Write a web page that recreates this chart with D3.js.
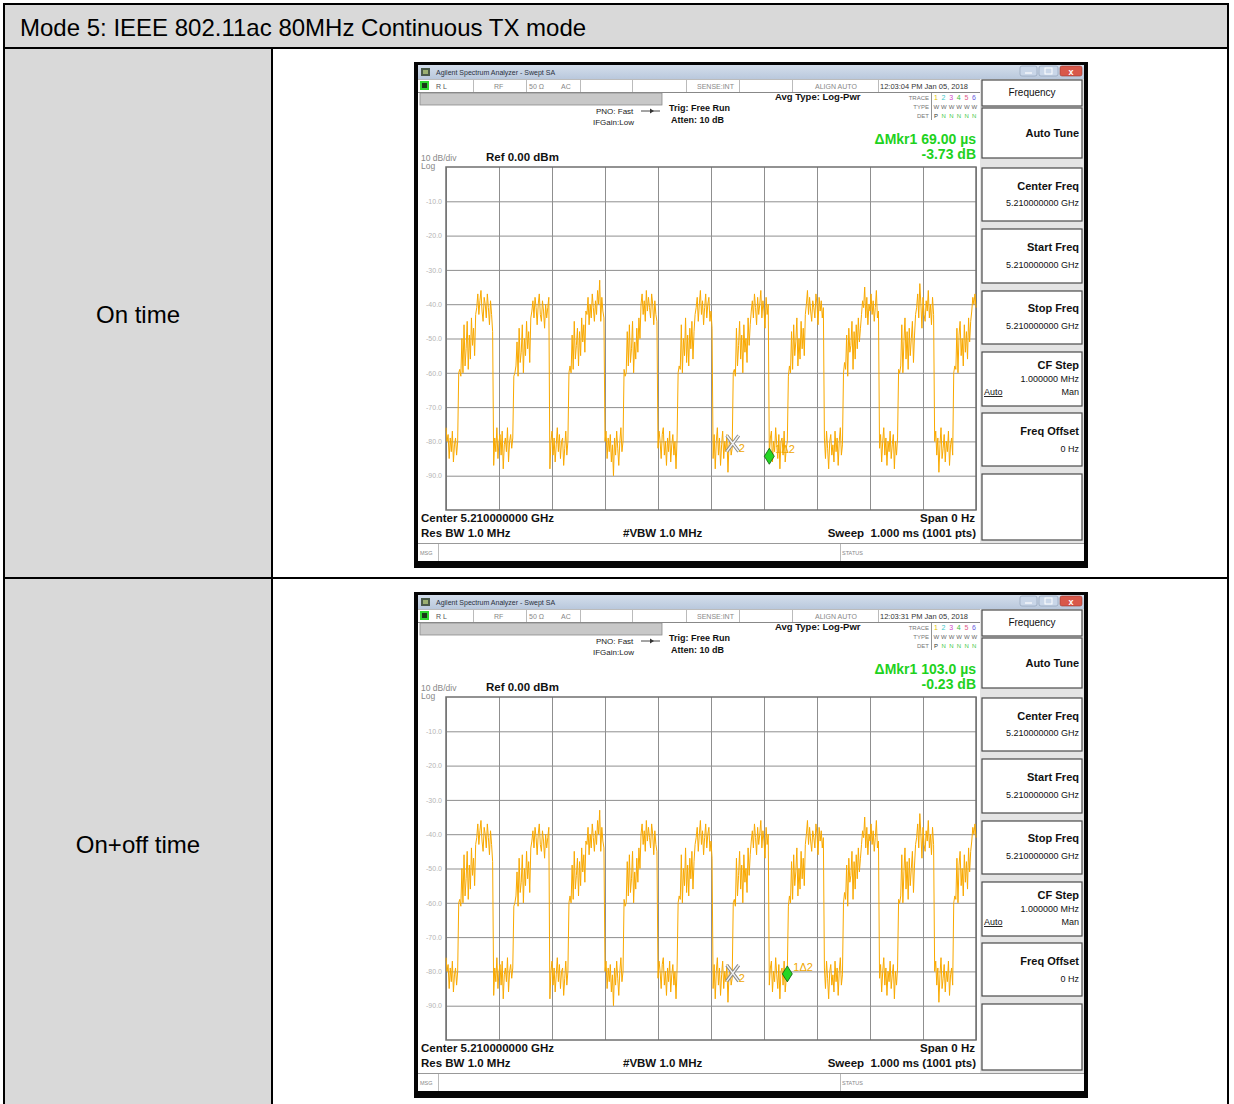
<!DOCTYPE html>
<html>
<head>
<meta charset="utf-8">
<script src="https://cdn.jsdelivr.net/npm/d3@7"></script>
<style>
  body { margin: 0; background: #fff; }
  svg { display: block; }
  text { font-family: "Liberation Sans", Arial, sans-serif; }
  .pre { white-space: pre; }
</style>
</head>
<body>
<svg id="chart" width="1234" height="1104"></svg>
<script>
// ---------- table content ----------
const tableTitle = "Mode 5: IEEE 802.11ac 80MHz Continuous TX mode";
const rowLabels = ["On time", "On+off time"];

// ---------- per-capture analyzer readouts ----------
const timestamps = ["12:03:04 PM Jan 05, 2018", "12:03:31 PM Jan 05, 2018"];
const deltaTimeUs = [69.00, 103.0];      // ΔMkr1 time
const deltaLevelDb = [-3.73, -0.23];     // ΔMkr1 level
const refMarkerTimeUs = [541, 541];      // marker 2 (reference) time
const refMarkerDbm = [-80.6, -80.5];     // marker 2 level

// ---------- axes ----------
const sweepSpanUs = 1000;                // 1.000 ms zero-span sweep
const refLevelDbm = 0;
const bottomLevelDbm = -100;
const levelTicks = [-10, -20, -30, -40, -50, -60, -70, -80, -90];
const timeGrid = [0, 100, 200, 300, 400, 500, 600, 700, 800, 900, 1000];

// ---------- trace (dBm), one value every 2 µs across the sweep ----------
const sweepStepUs = 2;
const traceDbm = [
  // off
  -76, -80, -78, -85, -79, -83, -77, -86, -81, -79, -84, -80,
  // burst 1: preamble, then payload
  -60, -59, -61, -50, -60, -46, -58, -53, -45, -59, -49, -56, -44, -52, -47, -55, -43,
  -41, -37, -43, -39, -36, -42, -45, -38, -40, -44, -37, -41, -46, -39, -43, -48,
  // off
  -87, -79, -83, -76, -85, -80, -78, -84, -77, -88, -81, -79, -83, -76, -86, -80, -78, -82, -79,
  // burst 2
  -61, -60, -58, -51, -61, -47, -57, -54, -46, -60, -50, -55, -45, -53, -48, -57, -44,
  -42, -39, -44, -38, -41, -46, -40, -37, -43, -45, -39, -42, -47, -40, -44, -41, -38,
  // off
  -88, -80, -77, -84, -79, -86, -81, -76, -83, -78, -85, -80, -79, -87, -82, -77, -84, -80,
  // burst 3
  -60, -58, -60, -49, -59, -45, -56, -52, -47, -58, -48, -55, -44, -51, -46, -54, -42,
  -43, -38, -46, -40, -44, -37, -41, -45, -39, -43, -36, -40, -33, -45, -38, -42, -44,
  // off
  -80, -77, -85, -79, -83, -78, -86, -81, -90, -79, -84, -77, -82, -87, -80, -76, -83, -80,
  // burst 4
  -59, -61, -60, -48, -58, -46, -57, -53, -45, -60, -51, -56, -47, -54, -44, -50,
  -40, -37, -43, -39, -45, -36, -42, -38, -41, -44, -37, -40, -46, -39, -43, -45,
  // off
  -82, -77, -80, -85, -78, -76, -84, -80, -87, -79, -83, -77, -86, -81, -78, -84, -80, -88, -79,
  // burst 5
  -60, -58, -59, -46, -60, -50, -55, -44, -57, -49, -58, -47, -53, -45, -56, -48, -43,
  -41, -38, -45, -40, -36, -43, -39, -46, -41, -37, -44, -40, -38, -45, -42, -47,
  // off
  -85, -78, -88, -80, -76, -84, -79, -87, -81, -77, -85, -80, -83, -78, -89, -81, -79, -84, -82,
  // burst 6
  -60, -59, -61, -47, -58, -52, -45, -56, -49, -60, -46, -54, -50, -57, -44, -52, -46,
  -42, -39, -44, -37, -41, -46, -38, -43, -40, -36, -44, -39, -42, -47, -38, -43, -40,
  // off
  -84, -79, -77, -86, -80, -83, -76, -81, -85, -78, -88, -80, -79, -84, -77, -86, -82, -80,
  // burst 7
  -61, -58, -60, -48, -59, -46, -55, -51, -44, -58, -50, -56, -45, -53, -47, -55, -43,
  -40, -36, -43, -38, -42, -45, -39, -41, -44, -37, -40, -46, -38, -42, -39, -44, -41,
  // off
  -79, -85, -77, -82, -88, -80, -78, -84, -81, -86, -77, -83, -79, -87, -80, -76, -84, -81,
  // burst 8
  -60, -57, -59, -49, -61, -47, -54, -52, -45, -59, -48, -56, -46, -53, -44, -51, -47,
  -43, -39, -41, -35, -44, -38, -46, -40, -42, -37, -43, -39, -45, -41, -36, -44, -42,
  // off
  -82, -78, -86, -80, -76, -84, -79, -87, -80, -83, -77, -85, -81, -78, -88, -80, -84, -79,
  // burst 9
  -59, -60, -58, -46, -60, -51, -44, -56, -48, -59, -47, -55, -50, -45, -57, -49, -43,
  -41, -37, -44, -34, -40, -47, -38, -43, -45, -39, -42, -36, -44, -40, -46, -38, -43,
  // off
  -80, -77, -84, -79, -89, -81, -76, -85, -82, -78, -86, -80, -83, -77, -87, -81, -79, -84,
  // burst 10
  -60, -58, -59, -47, -60, -49, -45, -55, -50, -58, -46, -54, -48, -56, -44, -51, -45,
  -42, -38, -40, -37, -41
];

// ---------- soft key menu ----------
const softkeyTitle = "Frequency";
const softkeys = [
  { label: "Auto Tune", value: "" },
  { label: "Center Freq", value: "5.210000000 GHz" },
  { label: "Start Freq", value: "5.210000000 GHz" },
  { label: "Stop Freq", value: "5.210000000 GHz" },
  { label: "CF Step", value: "1.000000 MHz" },
  { label: "Freq Offset", value: "0 Hz" },
  { label: "", value: "" }
];
const traceNumbers = ["1", "2", "3", "4", "5", "6"];
const traceNumberColors = ["#e2c400", "#3cc8c8", "#d048c8", "#44c044", "#e05a8a", "#6a5ae0"];

const loc = d3.formatLocale({ decimal: ".", thousands: ",", grouping: [3], currency: ["", ""], minus: "-" });
const fmtLevel = loc.format(".1f");
const fmtDb = loc.format(".2f");
const fmtUs = loc.format(".4r");

const svg = d3.select("#chart");

// ================= table =================
const tbl = svg.append("g");
tbl.append("rect").attr("x", 5).attr("y", 5).attr("width", 1223).attr("height", 43).attr("fill", "#d9d9d9");
tbl.append("rect").attr("x", 5).attr("y", 49).attr("width", 267).attr("height", 529).attr("fill", "#d9d9d9");
tbl.append("rect").attr("x", 5).attr("y", 579).attr("width", 267).attr("height", 525).attr("fill", "#d9d9d9");

const lines = [
  [4, 4, 1229, 4], [4, 48, 1229, 48], [4, 578, 1229, 578],
  [4, 3, 4, 1104], [1228, 3, 1228, 1104], [272, 48, 272, 1104]
];
tbl.selectAll("line.tb").data(lines).join("line")
  .attr("x1", d => d[0]).attr("y1", d => d[1]).attr("x2", d => d[2]).attr("y2", d => d[3])
  .attr("stroke", "#000").attr("stroke-width", 2);

tbl.append("text").attr("x", 20).attr("y", 36).attr("font-size", 24).attr("fill", "#000").text(tableTitle);
tbl.selectAll("text.row").data(rowLabels).join("text")
  .attr("x", 138).attr("y", (d, i) => i === 0 ? 323 : 853)
  .attr("text-anchor", "middle").attr("font-size", 24).attr("fill", "#000").text(d => d);

// ================= analyzer screen =================
const defs = svg.append("defs");
const grad = defs.append("linearGradient").attr("id", "titlebar").attr("x1", 0).attr("y1", 0).attr("x2", 0).attr("y2", 1);
grad.append("stop").attr("offset", "0%").attr("stop-color", "#d4deec");
grad.append("stop").attr("offset", "100%").attr("stop-color", "#b9c8dc");

function txt(g, x, y, s, opts = {}) {
  return g.append("text").attr("x", x).attr("y", y)
    .attr("font-size", opts.size || 9)
    .attr("font-weight", opts.bold ? "bold" : "normal")
    .attr("fill", opts.fill || "#111")
    .attr("text-anchor", opts.anchor || "start")
    .text(s);
}

function drawScreen(ox, oy, k) {
  const g = svg.append("g").attr("transform", `translate(${ox},${oy})`);

  // bezel + screen
  g.append("rect").attr("width", 674).attr("height", 506).attr("fill", "#050505");
  g.append("rect").attr("x", 4).attr("y", 3).attr("width", 666).attr("height", 496).attr("fill", "#fff");

  // window title bar
  g.append("rect").attr("x", 4).attr("y", 3).attr("width", 666).attr("height", 14).attr("fill", "url(#titlebar)");
  g.append("rect").attr("x", 7).attr("y", 6).attr("width", 9).attr("height", 8).attr("fill", "#4a5a48");
  g.append("rect").attr("x", 9).attr("y", 8).attr("width", 5).attr("height", 4).attr("fill", "#9bb070");
  txt(g, 22, 13, "Agilent Spectrum Analyzer - Swept SA", { size: 7, fill: "#2a3040" });
  g.append("rect").attr("x", 606).attr("y", 4).attr("width", 17).attr("height", 10).attr("rx", 2).attr("fill", "#c9d6e8").attr("stroke", "#8a9bb2").attr("stroke-width", 0.6);
  g.append("rect").attr("x", 625).attr("y", 4).attr("width", 19).attr("height", 10).attr("rx", 2).attr("fill", "#c9d6e8").attr("stroke", "#8a9bb2").attr("stroke-width", 0.6);
  g.append("rect").attr("x", 646).attr("y", 4).attr("width", 22).attr("height", 10).attr("rx", 2).attr("fill", "#d8584a").attr("stroke", "#9a3a30").attr("stroke-width", 0.6);
  g.append("line").attr("x1", 611).attr("y1", 11).attr("x2", 618).attr("y2", 11).attr("stroke", "#fff").attr("stroke-width", 1.2);
  g.append("rect").attr("x", 631).attr("y", 6).attr("width", 7).attr("height", 6).attr("fill", "none").attr("stroke", "#fff").attr("stroke-width", 1);
  g.append("text").attr("x", 657).attr("y", 12.5).attr("text-anchor", "middle").attr("font-size", 9).attr("font-weight", "bold").attr("fill", "#fff").text("x");

  // status row
  g.append("line").attr("x1", 4).attr("y1", 17.5).attr("x2", 566).attr("y2", 17.5).attr("stroke", "#bbb");
  g.append("line").attr("x1", 4).attr("y1", 30.5).attr("x2", 566).attr("y2", 30.5).attr("stroke", "#888");
  const seps = [59, 112, 166, 218, 272, 325, 378, 464, 566];
  g.selectAll("line.sep").data(seps).join("line")
    .attr("x1", d => d + 0.5).attr("x2", d => d + 0.5).attr("y1", 18).attr("y2", 30)
    .attr("stroke", "#bbb");
  g.append("rect").attr("x", 6).attr("y", 19).attr("width", 9).attr("height", 9).attr("fill", "#2fd62f");
  g.append("rect").attr("x", 8).attr("y", 21).attr("width", 5).attr("height", 5).attr("fill", "#1a3a1a");
  txt(g, 22, 27, "R L", { size: 7, fill: "#555" });
  txt(g, 80, 27, "RF", { size: 7, fill: "#888" });
  txt(g, 115, 27, "50 Ω", { size: 7, fill: "#888" });
  txt(g, 147, 27, "AC", { size: 7, fill: "#888" });
  txt(g, 283, 27, "SENSE:INT", { size: 7, fill: "#888" });
  txt(g, 401, 27, "ALIGN AUTO", { size: 7, fill: "#888" });
  txt(g, 466, 27, timestamps[k], { size: 7.5, fill: "#333" });

  // grey bar and setup lines
  g.append("rect").attr("x", 6).attr("y", 31).attr("width", 242).attr("height", 12).attr("fill", "#c8c8c8").attr("stroke", "#8a8a8a").attr("stroke-width", 0.8);
  txt(g, 182, 52, "PNO: Fast", { size: 8, fill: "#222" });
  txt(g, 179, 63, "IFGain:Low", { size: 8, fill: "#222" });
  g.append("line").attr("x1", 227).attr("y1", 49).attr("x2", 246).attr("y2", 49).attr("stroke", "#333").attr("stroke-width", 0.9);
  g.append("path").attr("d", "M236,46.5 L240,49 L236,51.5 Z").attr("fill", "#333");
  txt(g, 255, 49, "Trig: Free Run", { size: 9, bold: true });
  txt(g, 257, 61, "Atten: 10 dB", { size: 9, bold: true });
  txt(g, 361, 38, "Avg Type: Log-Pwr", { size: 9.5, bold: true });

  // trace legend
  txt(g, 515, 38, "TRACE", { size: 6, fill: "#777", anchor: "end" });
  txt(g, 515, 47, "TYPE", { size: 6, fill: "#777", anchor: "end" });
  txt(g, 515, 56, "DET", { size: 6, fill: "#777", anchor: "end" });
  g.append("line").attr("x1", 517.5).attr("x2", 517.5).attr("y1", 31).attr("y2", 58).attr("stroke", "#777").attr("stroke-width", 0.8);
  traceNumbers.forEach((n, i) => {
    txt(g, 520 + i * 7.6, 38, n, { size: 7, fill: traceNumberColors[i] });
    txt(g, 519.5 + i * 7.6, 47, "W", { size: 6, fill: "#666" });
    txt(g, 520 + i * 7.6, 56, i === 0 ? "P" : "N", { size: 6, fill: i === 0 ? "#333" : "#3fc83f" });
  });

  // delta marker readout
  txt(g, 562, 82, `ΔMkr1 ${fmtUs(deltaTimeUs[k])} µs`, { size: 14, bold: true, fill: "#1ed21e", anchor: "end" });
  txt(g, 562, 97, `${fmtDb(deltaLevelDb[k])} dB`, { size: 14, bold: true, fill: "#1ed21e", anchor: "end" });

  // scale annotations
  txt(g, 7, 99, "10 dB/div", { size: 8.5, fill: "#888" });
  txt(g, 7, 107, "Log", { size: 8.5, fill: "#888" });
  txt(g, 72, 99, `Ref ${fmtDb(refLevelDbm)} dBm`, { size: 11.5, bold: true });

  // plot area
  const x = d3.scaleLinear().domain([0, sweepSpanUs]).range([32, 562]);
  const y = d3.scaleLinear().domain([bottomLevelDbm, refLevelDbm]).range([448, 105]);
  const plot = g.append("g");

  plot.append("g").attr("transform", "translate(0,448)")
    .call(d3.axisBottom(x).tickValues(timeGrid).tickSize(-343).tickFormat(""))
    .call(a => a.select(".domain").remove())
    .call(a => a.selectAll(".tick line").attr("stroke", "#8f8f8f").attr("stroke-width", 1));
  plot.append("g").attr("transform", "translate(32,0)")
    .call(d3.axisLeft(y).tickValues(levelTicks).tickSize(-530).tickPadding(4).tickFormat(fmtLevel))
    .call(a => a.select(".domain").remove())
    .call(a => a.selectAll(".tick line").attr("stroke", "#8f8f8f").attr("stroke-width", 1))
    .call(a => a.selectAll(".tick text").attr("fill", "#b4b4b4").attr("font-size", 7)
      .attr("font-family", "'Liberation Sans', Arial, sans-serif"));
  plot.append("rect").attr("x", 32).attr("y", 105).attr("width", 530).attr("height", 343)
    .attr("fill", "none").attr("stroke", "#6f6f6f").attr("stroke-width", 1.5);

  const line = d3.line().x((d, i) => x(i * sweepStepUs)).y(d => y(d));
  plot.append("path").datum(traceDbm).attr("d", line)
    .attr("fill", "none").attr("stroke", "#f9a900").attr("stroke-width", 1).attr("stroke-linejoin", "round");

  // markers: 2 = reference (X), 1 = delta (diamond)
  const m2x = x(refMarkerTimeUs[k]), m2y = y(refMarkerDbm[k]);
  const m1x = x(refMarkerTimeUs[k] + deltaTimeUs[k]), m1y = y(refMarkerDbm[k] + deltaLevelDb[k]);
  const xPath = `M${m2x - 6},${m2y - 8} L${m2x + 6},${m2y + 8} M${m2x + 6},${m2y - 8} L${m2x - 6},${m2y + 8}`;
  g.append("path").attr("d", xPath).attr("stroke", "#8a8a8a").attr("stroke-width", 3.4).attr("fill", "none");
  g.append("path").attr("d", xPath).attr("stroke", "#f4f4f4").attr("stroke-width", 1.4).attr("fill", "none");
  txt(g, m2x + 6, m2y + 9, "2", { size: 11, fill: "#f0a800" });
  g.append("path").attr("d", `M${m1x},${m1y - 8} L${m1x + 5},${m1y} L${m1x},${m1y + 8} L${m1x - 5},${m1y} Z`)
    .attr("fill", "#24d624").attr("stroke", "#0c5a0c").attr("stroke-width", 0.8);
  txt(g, m1x + 6, m1y - 3, "1Δ2", { size: 11, fill: "#f0a800" });

  // footer readouts
  txt(g, 7, 460, "Center 5.210000000 GHz", { size: 11.5, bold: true });
  txt(g, 561, 460, "Span 0 Hz", { size: 11.5, bold: true, anchor: "end" });
  txt(g, 7, 475, "Res BW 1.0 MHz", { size: 11.5, bold: true });
  txt(g, 209, 475, "#VBW 1.0 MHz", { size: 11.5, bold: true });
  txt(g, 562, 475, "Sweep  1.000 ms (1001 pts)", { size: 11.5, bold: true, anchor: "end" }).attr("class", "pre");

  // message bar
  g.append("line").attr("x1", 4).attr("x2", 670).attr("y1", 481.5).attr("y2", 481.5).attr("stroke", "#999");
  g.append("line").attr("x1", 24.5).attr("x2", 24.5).attr("y1", 482).attr("y2", 499).attr("stroke", "#bbb");
  g.append("line").attr("x1", 426.5).attr("x2", 426.5).attr("y1", 482).attr("y2", 499).attr("stroke", "#bbb");
  txt(g, 6, 493, "MSG", { size: 5.5, fill: "#888" });
  txt(g, 428, 493, "STATUS", { size: 5.5, fill: "#888" });

  // soft key panel
  g.append("rect").attr("x", 566).attr("y", 17).attr("width", 104).attr("height", 464).attr("fill", "#e4e4e4");
  const boxes = [[18, 44], [46, 96], [106, 159], [167, 221], [229, 282], [290, 344], [351, 404], [412, 478]];
  g.selectAll("rect.key").data(boxes).join("rect")
    .attr("x", 568).attr("y", d => d[0]).attr("width", 100).attr("height", d => d[1] - d[0])
    .attr("fill", "#fff").attr("stroke", "#4a4a4a").attr("stroke-width", 1.2);
  txt(g, 618, 34, softkeyTitle, { size: 10, anchor: "middle" });
  const labelY = [75, 128, 189, 250, 307, 373, 0];
  const valueY = [0, 144, 206, 267, 320, 390, 0];
  softkeys.forEach((s, i) => {
    if (s.label) txt(g, 665, labelY[i], s.label, { size: 11, bold: true, anchor: "end" });
    if (s.value) txt(g, 665, valueY[i], s.value, { size: 9, anchor: "end" });
  });
  txt(g, 570, 333, "Auto", { size: 9 }).attr("text-decoration", "underline");
  txt(g, 665, 333, "Man", { size: 9, anchor: "end" });
}

drawScreen(414, 62, 0);
drawScreen(414, 592, 1);
</script>
</body>
</html>
